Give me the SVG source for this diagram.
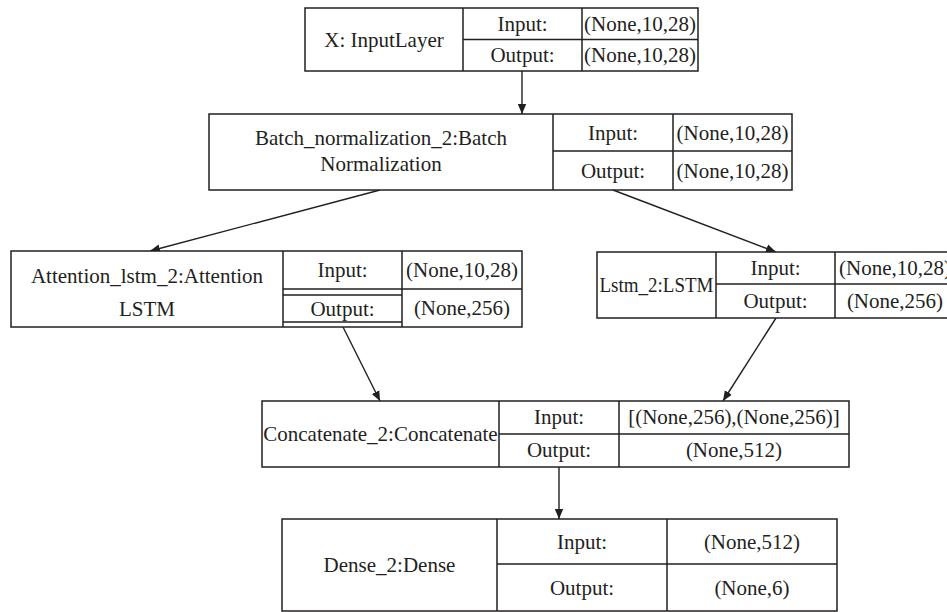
<svg xmlns="http://www.w3.org/2000/svg" width="947" height="612" viewBox="0 0 947 612">
<style>
.b{fill:#fff;stroke:#231f20;stroke-width:1.5}
.l{stroke:#231f20;stroke-width:1.5;fill:none}
text{font-size:21px;fill:#231f20;text-anchor:middle}
.c{stroke:#231f20;stroke-width:1.4;fill:none;marker-end:url(#ah)}
</style>
<defs>
<marker id="ah" viewBox="0 0 10 10" refX="10" refY="5" markerWidth="10" markerHeight="10" markerUnits="userSpaceOnUse" orient="auto">
<path d="M0,0.8 L10,5 L0,9.2 Z" fill="#231f20"/>
</marker>
</defs>
<rect width="947" height="612" fill="#fff"/>
<g id="connectors">
<line class="c" x1="522" y1="71" x2="522" y2="114"/>
<line class="c" x1="380" y1="190" x2="150" y2="251"/>
<line class="c" x1="613" y1="190" x2="776" y2="252"/>
<line class="c" x1="343" y1="327" x2="380" y2="401"/>
<line class="c" x1="776" y1="318" x2="723" y2="401"/>
<line class="c" x1="559" y1="467" x2="559" y2="519"/>
</g>
<g font-family="'Liberation Serif', 'DejaVu Serif', serif">
<g id="node-input">
<rect class="b" x="305" y="8" width="393" height="63"/>
<path class="l" d="M463,8V71M582,8V71M463,39.5H698"/>
<text x="384" y="46.5">X: InputLayer</text>
<text x="522.5" y="31">Input:</text>
<text x="522.5" y="62">Output:</text>
<text x="640" y="31">(None,10,28)</text>
<text x="640" y="62">(None,10,28)</text>
</g>
<g id="node-batch">
<rect class="b" x="209" y="114" width="583" height="76"/>
<path class="l" d="M553,114V190M673,114V190M553,151H792"/>
<text x="381" y="145">Batch_normalization_2:Batch</text>
<text x="381" y="171">Normalization</text>
<text x="613" y="139.5">Input:</text>
<text x="613" y="177.5">Output:</text>
<text x="732.5" y="139.5">(None,10,28)</text>
<text x="732.5" y="177.5">(None,10,28)</text>
</g>
<g id="node-attention">
<rect class="b" x="11" y="251" width="511" height="76"/>
<path class="l" d="M283,251V327M402,251V327M283,289H522M283,295H402M283,322H402"/>
<text x="147" y="283">Attention_lstm_2:Attention</text>
<text x="147" y="316">LSTM</text>
<text x="342.5" y="277">Input:</text>
<text x="342.5" y="316">Output:</text>
<text x="462" y="277">(None,10,28)</text>
<text x="462" y="315">(None,256)</text>
</g>
<g id="node-lstm">
<rect class="b" x="597" y="252" width="363" height="66"/>
<path class="l" d="M716,252V318M835,252V318M716,284H960"/>
<text x="656.5" y="292" textLength="114" lengthAdjust="spacingAndGlyphs">Lstm_2:LSTM</text>
<text x="775.5" y="275">Input:</text>
<text x="775.5" y="308">Output:</text>
<text x="895" y="275">(None,10,28)</text>
<text x="895" y="308">(None,256)</text>
</g>
<g id="node-concat">
<rect class="b" x="262" y="401" width="587" height="66"/>
<path class="l" d="M499,401V467M619,401V467M499,434H849"/>
<text x="380.5" y="440.5">Concatenate_2:Concatenate</text>
<text x="559" y="424">Input:</text>
<text x="559" y="457">Output:</text>
<text x="734" y="424">[(None,256),(None,256)]</text>
<text x="734" y="457">(None,512)</text>
</g>
<g id="node-dense">
<rect class="b" x="282" y="519" width="555" height="92"/>
<path class="l" d="M497,519V611M667,519V611M497,564H837"/>
<text x="389.5" y="572">Dense_2:Dense</text>
<text x="582" y="548.5">Input:</text>
<text x="582" y="595">Output:</text>
<text x="752" y="548.5">(None,512)</text>
<text x="752" y="595">(None,6)</text>
</g>
</g>
</svg>
